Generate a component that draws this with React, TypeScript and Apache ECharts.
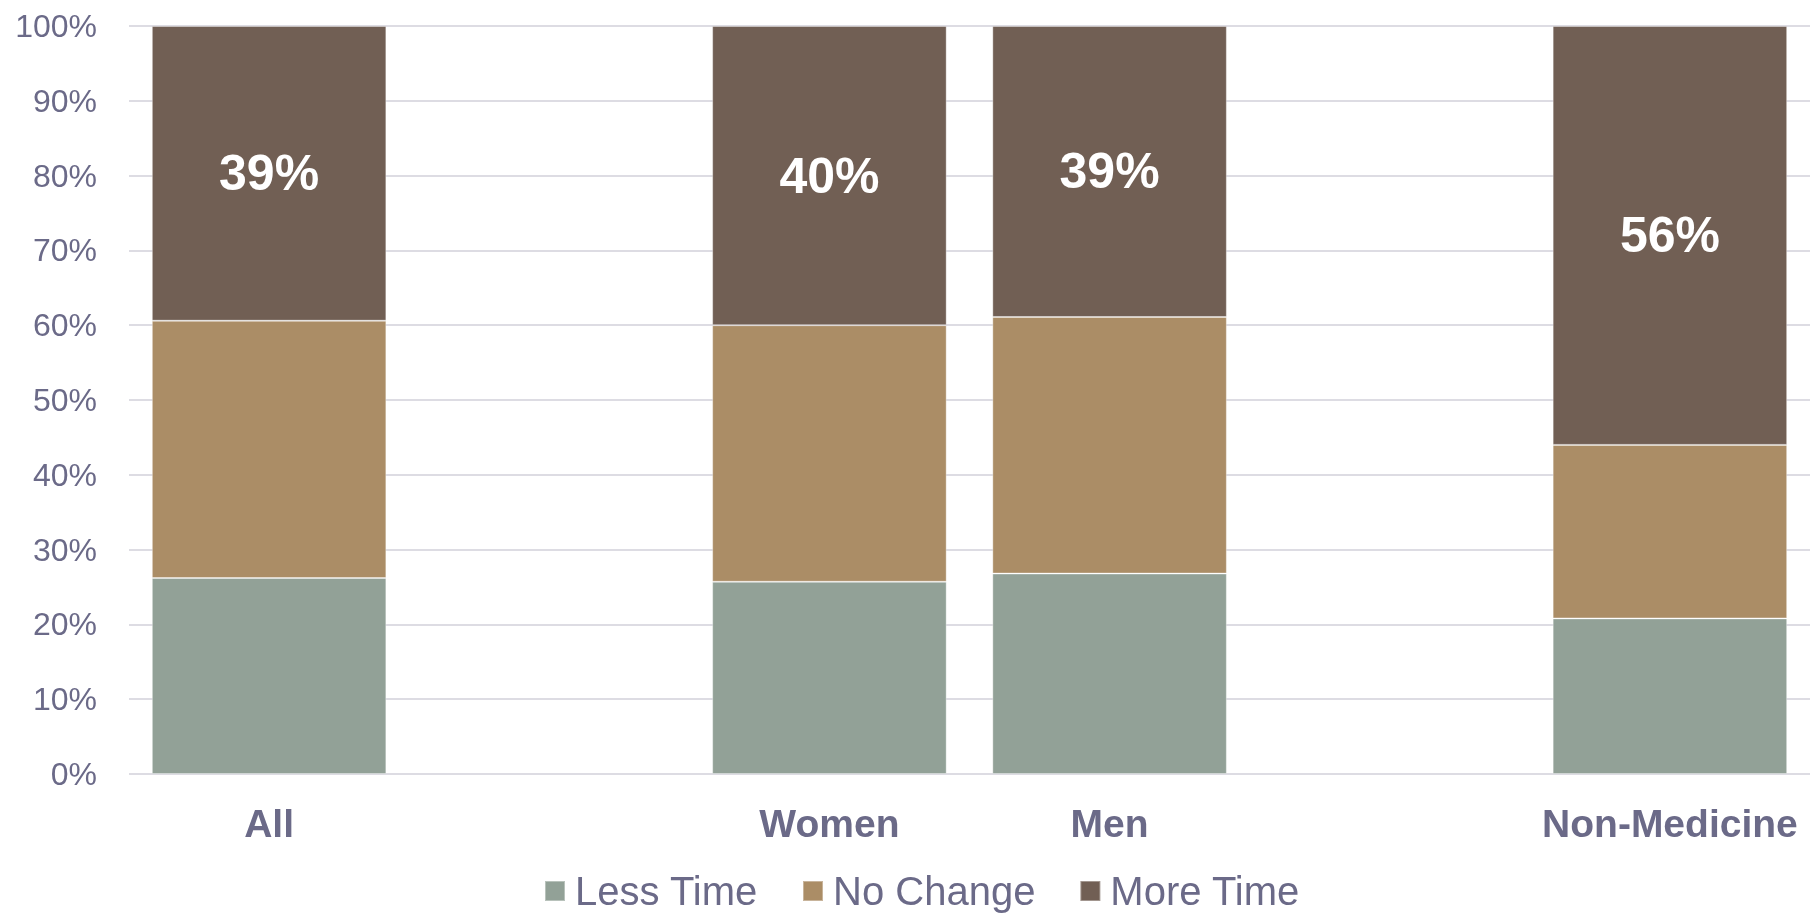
import React, { useEffect, useRef } from "react";
import * as echarts from "echarts";

// Groups on the x axis; empty strings leave blank slots between groups.
const categories = ["All", "", "Women", "Men", "", "Non-Medicine"];

// Share of respondents (%) per group.
const lessTime = [26.2, null, 25.7, 26.8, null, 20.8];
const noChange = [34.4, null, 34.3, 34.3, null, 23.2];
const moreTime = [39.4, null, 40.0, 38.9, null, 56.0];

const yTicks = [0, 10, 20, 30, 40, 50, 60, 70, 80, 90, 100];

const TEXT = "#6b6a88";
const GRID = "#dddce3";
const COLORS = { less: "#92a197", nochange: "#ab8d66", more: "#715f54" };

const App: React.FC = () => {
  const ref = useRef<HTMLDivElement>(null);

  useEffect(() => {
    if (!ref.current) return;
    const chart = echarts.init(ref.current, undefined, { renderer: "svg" });

    const barBase = {
      type: "bar" as const,
      stack: "total",
      barCategoryGap: "16.3%",
      itemStyle: { borderColor: "rgba(255,255,255,0.35)", borderWidth: 1 },
      emphasis: { disabled: true },
    };

    chart.setOption({
      animation: false,
      textStyle: { fontFamily: "'Liberation Sans', Arial, sans-serif" },
      grid: { left: 129, right: 4, top: 26, bottom: 140 },
      legend: {
        left: 539,
        top: 866,
        itemWidth: 20,
        itemHeight: 20,
        itemGap: 44,
        icon: "rect",
        textStyle: {
          color: TEXT,
          fontSize: 40,
          padding: [0, 0, 0, 5],
        },
        data: ["Less Time", "No Change", "More Time"],
      },
      xAxis: {
        type: "category",
        data: categories,
        axisLine: { show: false },
        axisTick: { show: false },
        axisLabel: {
          color: TEXT,
          fontSize: 39,
          fontWeight: "bold",
          margin: 30,
          interval: 0,
        },
      },
      yAxis: {
        type: "value",
        min: 0,
        max: 100,
        interval: 10,
        axisLine: { show: false },
        axisTick: { show: false },
        axisLabel: {
          color: TEXT,
          fontSize: 32,
          margin: 32,
          formatter: (v: number) => (yTicks.includes(v) ? `${v}%` : ""),
        },
        splitLine: { lineStyle: { color: GRID, width: 2 } },
      },
      series: [
        {
          ...barBase,
          name: "Less Time",
          data: lessTime,
          itemStyle: { ...barBase.itemStyle, color: COLORS.less },
        },
        {
          ...barBase,
          name: "No Change",
          data: noChange,
          itemStyle: { ...barBase.itemStyle, color: COLORS.nochange },
        },
        {
          ...barBase,
          name: "More Time",
          data: moreTime,
          itemStyle: { ...barBase.itemStyle, color: COLORS.more },
          label: {
            show: true,
            position: "inside",
            color: "#ffffff",
            fontSize: 50,
            fontWeight: "bold",
            formatter: (p: any) => `${Math.round(p.value)}%`,
          },
        },
      ],
    });

    return () => chart.dispose();
  }, []);

  return (
    <div
      ref={ref}
      style={{ position: "fixed", left: 0, top: 0, width: 1814, height: 914 }}
    />
  );
};

export default App;
